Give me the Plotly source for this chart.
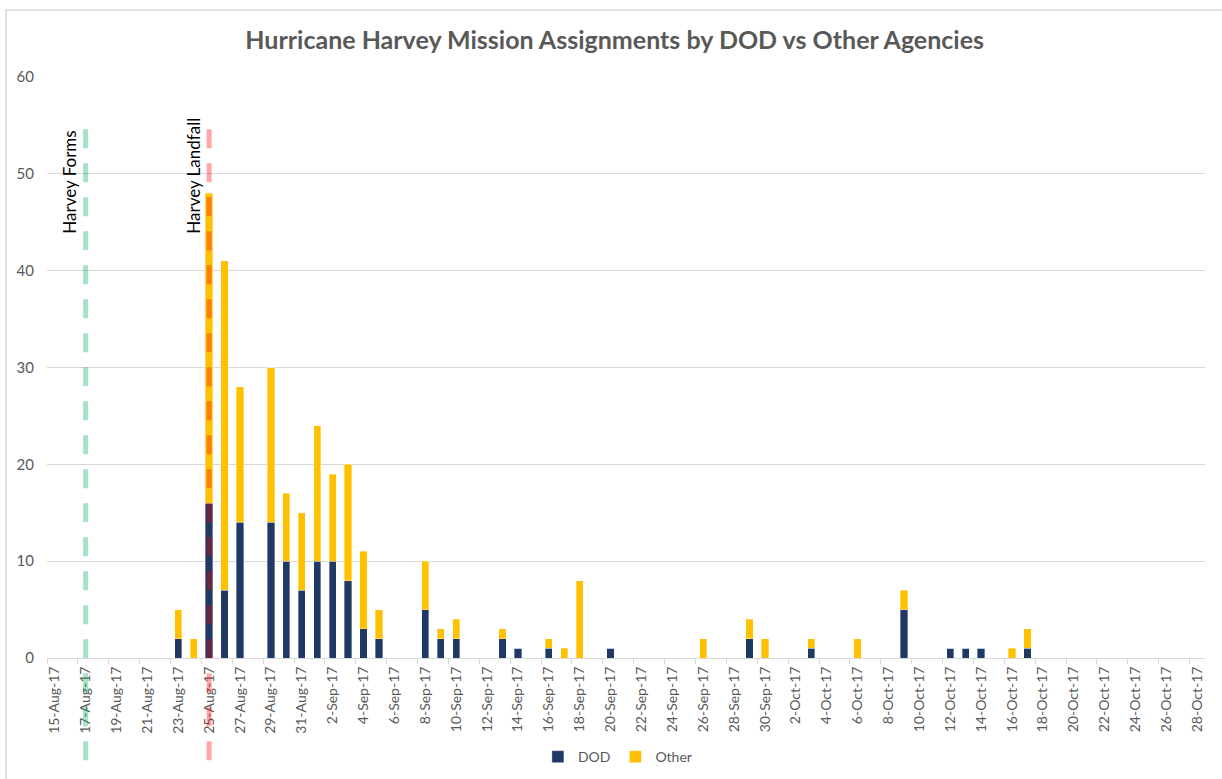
import plotly.graph_objects as go
import pandas as pd

dates = ["2017-08-23", "2017-08-24", "2017-08-25", "2017-08-26", "2017-08-27",
         "2017-08-29", "2017-08-30", "2017-08-31", "2017-09-01", "2017-09-02",
         "2017-09-03", "2017-09-04", "2017-09-05", "2017-09-08", "2017-09-09",
         "2017-09-10", "2017-09-13", "2017-09-14", "2017-09-16", "2017-09-17",
         "2017-09-18", "2017-09-20", "2017-09-26", "2017-09-29", "2017-09-30",
         "2017-10-03", "2017-10-06", "2017-10-09", "2017-10-12", "2017-10-13",
         "2017-10-14", "2017-10-16", "2017-10-17"]
dod = [2, 0, 16, 7, 14, 14, 10, 7, 10, 10, 8, 3, 2, 5, 2, 2, 2, 1, 1, 0, 0, 1,
       0, 2, 0, 1, 0, 5, 1, 1, 1, 0, 1]
other = [3, 2, 32, 34, 14, 16, 7, 8, 14, 9, 12, 8, 3, 5, 1, 2, 1, 0, 1, 1, 8, 0,
         2, 2, 2, 1, 2, 2, 0, 0, 0, 1, 2]

event_dates = ["2017-08-17", "2017-08-25"]
event_labels = ["Harvey Forms", "Harvey Landfall"]
event_colors = ["rgba(0,176,80,0.35)", "rgba(255,0,0,0.35)"]

axis_start = "2017-08-14 12:00"
axis_end = "2017-10-28 12:00"

DAY_MS = 86400000
FONT = "Lato"
GRAY = "#595959"

fig = go.Figure()
fig.add_trace(go.Bar(x=pd.to_datetime(dates), y=dod, name="DOD",
                     marker=dict(color="#203864", line=dict(color="rgba(255,255,255,0.6)", width=0.6)),
                     width=0.47 * DAY_MS))
fig.add_trace(go.Bar(x=pd.to_datetime(dates), y=other, name="Other",
                     marker=dict(color="#FFC000", line=dict(color="rgba(255,255,255,0.6)", width=0.6)),
                     width=0.47 * DAY_MS))

# event lines + labels (x position derived from the axis date range)
t0 = pd.Timestamp(axis_start)
t1 = pd.Timestamp(axis_end)
for d, lab, col in zip(event_dates, event_labels, event_colors):
    px_frac = (pd.Timestamp(d) - t0) / (t1 - t0)
    fig.add_shape(type="line", xref="paper", yref="paper",
                  x0=px_frac, x1=px_frac, y0=0.91, y1=-0.185,
                  line=dict(color=col, width=5, dash="19px,15px"), layer="above")
    fig.add_annotation(x=d, xref="x", y=0.727, yref="paper", text=lab,
                       textangle=-90, showarrow=False, xshift=-16,
                       xanchor="center", yanchor="bottom",
                       font=dict(family=FONT, size=17, color="#000000"))

# chart border
fig.add_shape(type="rect", xref="paper", yref="paper",
              x0=-0.0354, x1=1.2, y0=-0.6, y1=1.1153,
              line=dict(color="#d9d9d9", width=1.5), layer="below")

fig.update_layout(
    barmode="stack",
    width=1222, height=779,
    margin=dict(l=47, r=17, t=77, b=121, autoexpand=False),
    paper_bgcolor="white", plot_bgcolor="white",
    title=dict(text="<b>Hurricane Harvey Mission Assignments by DOD vs Other Agencies</b>",
               x=0.503, xanchor="center", y=0.948, yanchor="middle",
               font=dict(family=FONT, size=25, color=GRAY)),
    font=dict(family=FONT, color=GRAY),
    legend=dict(orientation="h", x=0.493, xanchor="center", y=-0.143, yanchor="top",
                font=dict(family=FONT, size=14, color=GRAY), traceorder="normal",
                itemwidth=30),
    showlegend=True,
)
fig.update_xaxes(type="date", range=[axis_start, axis_end], automargin=False,
                 tick0="2017-08-15", dtick=2 * DAY_MS, tickformat="%-d-%b-%y",
                 tickangle=-90, tickfont=dict(family=FONT, size=14, color=GRAY),
                 showgrid=False, showline=True, linecolor="#d9d9d9", linewidth=1,
                 ticks="", ticklabelstandoff=2,
                 minor=dict(ticks="outside", tick0="2017-08-14 12:00", dtick=2 * DAY_MS,
                            ticklen=5, tickcolor="#d9d9d9", showgrid=False))
fig.update_yaxes(range=[0, 60], dtick=10, showgrid=True, gridcolor="#d9d9d9",
                 gridwidth=1, zeroline=False, ticks="", automargin=False,
                 tickfont=dict(family=FONT, size=15, color=GRAY), ticklabelstandoff=12)

fig.write_html("out.html")
